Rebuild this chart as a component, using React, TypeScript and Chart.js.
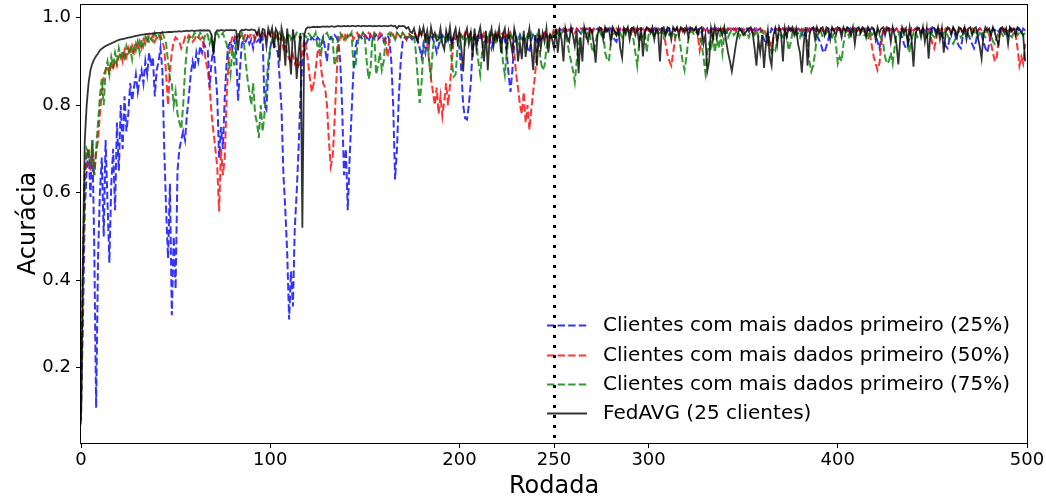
import React, { useEffect, useRef } from "react";
import { Chart, registerables } from "chart.js";

Chart.register(...registerables);
Chart.defaults.font.family = "'DejaVu Sans', sans-serif";

const xTicks = [0, 100, 200, 250, 300, 400, 500];
const yTicks = [0.2, 0.4, 0.6, 0.8, 1.0];
const markerRound = 250;
const xLabel = "Rodada";
const yLabel = "Acurácia";
const seriesLabels = [
  "Clientes com mais dados primeiro (25%)",
  "Clientes com mais dados primeiro (50%)",
  "Clientes com mais dados primeiro (75%)",
  "FedAVG (25 clientes)",
];

// accuracy per round, in thousandths (round 0 .. 499)
const blue25 = [
100,300,560,650,700,590,720,480,108,450,600,680,500,720,580,440,620,700,560,760,650,800,700,820,740,
780,850,810,840,870,830,860,880,850,900,870,920,890,910,820,880,900,930,880,700,560,450,620,320,500,
380,650,700,720,740,720,780,820,870,900,880,920,900,935,920,940,930,925,840,900,930,880,820,680,750,
700,820,900,935,945,930,950,920,810,880,940,950,945,955,940,950,930,955,945,950,940,955,800,790,880,
930,950,940,930,920,860,790,640,560,460,310,420,340,520,600,700,820,900,920,940,950,945,955,950,945,
955,950,940,955,930,900,945,955,950,960,955,945,900,800,640,700,560,680,780,880,930,950,960,955,950,
960,955,945,960,950,955,960,950,955,960,945,955,960,950,900,800,630,700,820,900,945,955,950,960,955,
950,955,960,945,930,910,940,920,950,955,960,950,940,920,935,955,960,950,945,955,960,940,955,950,945,
930,880,800,770,767,800,850,930,950,955,945,955,960,950,945,960,955,930,945,960,955,950,945,960,950,
920,870,830,880,940,955,950,960,945,955,950,930,920,950,960,955,945,960,950,955,965,960,950,960,955,
965,970,960,975,970,965,975,970,975,968,975,972,975,970,965,975,972,975,970,975,968,975,972,975,970,
975,972,968,975,970,975,960,950,945,960,975,970,975,972,975,968,975,972,975,970,975,972,975,970,975,
972,975,968,975,970,975,972,975,970,975,968,975,972,975,970,975,972,975,970,975,968,975,972,975,970,
975,972,975,965,975,970,975,960,972,975,968,975,970,975,972,975,960,975,970,975,972,975,968,975,970,
975,972,975,968,975,970,975,965,972,975,960,950,940,945,960,975,970,975,972,975,968,975,970,975,972,
975,968,975,970,975,972,960,975,970,975,968,975,972,975,960,950,940,925,920,935,950,970,975,972,975,
970,975,968,975,972,975,960,975,970,975,968,975,972,975,970,965,975,968,975,972,960,945,930,950,970,
975,972,975,968,975,970,975,972,965,955,940,930,935,960,975,970,975,972,975,968,975,970,975,972,975,
968,975,970,975,972,960,950,935,930,950,965,975,960,945,935,930,955,975,970,960,950,940,930,945,970,
975,960,945,930,920,940,965,975,970,975,968,975,972,975,970,960,975,968,975,972,975,970,965,975,970,
];

const red50 = [
120,400,620,680,700,650,710,640,690,720,780,830,870,880,890,870,900,880,905,890,910,920,900,925,910,
930,915,935,920,940,925,945,930,950,940,955,945,950,960,945,955,950,960,945,930,870,800,880,920,945,
955,950,945,930,940,955,950,960,955,945,950,960,955,950,955,930,900,880,840,780,740,700,660,557,700,
640,680,820,900,940,955,960,950,965,955,960,950,965,960,955,965,960,950,965,960,955,965,960,955,965,
960,955,965,950,960,945,955,930,940,920,905,900,915,895,905,890,900,920,950,930,900,860,830,850,880,
920,930,880,850,840,800,720,660,680,760,860,940,955,960,950,965,955,960,965,950,960,965,955,960,965,
960,955,965,960,950,965,960,955,965,960,950,945,910,955,965,960,950,965,960,955,965,960,950,965,960,
955,965,960,950,965,960,955,960,940,900,860,830,800,840,780,820,775,810,850,800,845,900,950,960,955,
965,960,950,965,955,960,965,950,960,965,955,960,950,965,960,940,955,965,960,950,965,955,960,965,950,
960,955,965,950,920,870,840,800,780,830,760,800,744,790,830,870,920,950,960,955,965,960,950,965,960,
975,970,965,975,970,975,968,975,970,975,972,965,975,970,975,972,975,968,975,970,960,975,972,975,970,
975,968,975,970,975,972,975,965,975,970,975,968,975,972,975,970,975,965,975,970,975,972,975,968,975,
970,975,972,975,968,975,970,975,965,940,915,900,890,920,950,975,970,975,968,975,972,975,970,975,968,
975,960,925,950,975,970,975,968,975,972,975,970,975,965,975,970,975,972,975,968,975,970,975,972,975,
968,975,970,975,972,975,965,975,970,975,968,975,960,940,950,930,955,975,970,975,972,975,968,975,970,
975,972,975,968,975,970,975,972,975,968,975,970,975,972,975,965,975,970,975,968,975,972,975,970,975,
968,975,972,975,970,975,968,975,972,975,965,975,970,975,968,975,972,960,935,910,895,880,895,940,970,
975,968,975,972,975,970,975,968,975,972,975,970,975,965,975,970,975,972,975,968,975,970,975,972,960,
940,930,950,975,970,975,968,975,972,975,970,975,968,975,972,975,965,975,970,975,972,975,968,975,970,
975,972,975,968,975,960,940,920,900,910,950,975,970,975,972,975,968,975,970,960,930,890,910,895,940,
];

const green75 = [
70,420,640,700,690,660,720,640,700,760,820,860,800,880,900,870,910,890,920,900,930,910,925,900,935,
920,930,905,940,925,945,920,950,935,955,940,960,950,945,965,955,960,950,965,955,940,900,860,850,800,
830,780,760,745,800,880,930,950,960,955,965,960,955,965,960,950,965,960,940,955,930,960,965,955,960,
965,950,940,900,870,930,890,950,960,955,965,950,900,860,830,800,850,780,760,725,800,740,780,850,900,
930,950,955,960,950,965,955,960,940,955,965,950,960,955,965,960,950,965,960,955,965,960,950,955,965,
930,940,920,955,960,965,955,960,950,890,910,960,965,955,960,950,960,955,965,890,885,930,960,955,965,
955,900,860,880,950,960,870,890,920,880,900,950,960,965,955,960,950,965,960,955,965,960,950,955,960,
955,960,920,860,805,850,930,955,960,900,870,930,955,960,950,945,960,955,950,965,940,900,865,870,930,
955,960,950,940,960,955,965,950,960,945,900,870,920,955,960,950,965,955,960,940,955,960,950,900,870,
920,955,960,950,965,955,940,960,950,955,945,960,950,965,955,950,960,940,900,880,890,930,955,960,950,
965,960,970,955,965,970,960,945,920,900,880,853,900,940,960,970,965,955,970,960,930,920,945,965,970,
960,970,920,905,900,940,965,970,960,970,965,955,970,960,965,970,960,950,920,890,940,965,955,970,920,
960,970,965,955,970,960,965,970,955,965,970,960,965,970,955,965,960,930,900,880,910,950,965,970,960,
965,970,955,940,910,874,920,940,925,960,920,950,930,965,920,960,970,955,965,970,960,965,970,955,965,
970,960,965,955,970,965,960,970,955,965,970,960,955,965,940,920,930,925,950,965,960,955,970,960,925,
940,965,970,960,965,955,970,960,965,940,900,877,890,920,960,965,970,955,960,965,970,960,955,965,940,
895,910,900,940,965,970,955,960,965,970,960,955,965,970,960,965,950,970,960,965,955,970,960,950,940,
910,895,900,920,895,930,960,965,955,970,960,965,950,920,950,965,970,955,960,965,970,960,955,965,970,
960,955,965,970,960,955,965,970,960,950,945,940,950,965,970,955,960,965,970,960,955,965,970,960,955,
965,970,960,955,965,970,960,945,940,955,965,970,960,955,965,970,960,955,965,970,960,965,970,960,965,
];

const fedavg = [
80,450,720,800,850,880,895,905,912,918,925,929,932,935,937,939,941,943,945,947,949,950,951,952,953,
954,955,956,957,958,959,960,961,961,962,962,963,963,964,964,965,965,965,966,966,966,967,967,967,968,
968,968,969,968,969,969,970,969,970,970,969,970,970,971,970,971,970,971,970,960,915,965,971,970,972,
971,970,972,971,972,971,972,970,925,968,972,971,973,972,971,973,972,971,960,973,950,974,972,935,975,
960,976,930,974,965,900,976,955,890,975,925,870,973,945,860,920,965,520,960,975,978,977,978,979,978,
979,978,979,980,979,980,979,980,980,979,980,981,980,980,981,980,981,980,981,981,980,981,981,980,981,
981,980,981,981,980,981,980,981,981,980,981,981,980,981,982,980,981,975,981,980,981,980,975,978,968,
965,975,955,945,975,960,978,950,970,940,978,955,965,947,950,975,940,927,970,950,978,935,960,975,945,
968,930,877,960,975,940,965,910,975,930,960,978,945,900,970,880,955,975,935,965,950,975,920,960,975,
930,968,945,920,975,955,900,940,905,970,910,950,975,930,880,960,890,975,930,965,945,975,920,960,950,
930,975,920,968,950,900,975,955,945,978,960,935,970,873,955,900,978,960,945,975,970,940,897,960,978,
975,950,978,968,975,945,978,970,960,975,930,908,975,965,978,950,975,978,960,975,940,978,911,965,978,
975,965,978,950,975,968,900,975,978,960,978,975,950,978,970,978,960,978,975,965,978,955,978,975,970,
978,960,975,978,940,960,877,900,975,950,978,955,970,975,960,978,945,920,900,877,905,935,960,975,970,
960,965,970,975,978,965,930,890,950,920,960,885,940,970,910,890,960,975,940,978,965,900,975,955,978,
970,978,960,975,940,920,874,940,978,890,960,975,978,950,978,965,975,978,960,978,975,950,978,970,960,
978,975,955,978,968,978,975,960,978,940,975,978,965,978,975,955,978,970,978,975,950,978,965,975,978,
960,978,975,945,978,960,940,893,950,978,965,975,940,978,950,888,960,978,975,955,978,945,975,906,965,
978,975,960,978,950,975,920,965,978,975,960,978,970,955,978,975,965,978,950,975,978,960,975,978,955,
935,906,960,978,970,975,960,978,965,950,938,975,978,965,975,940,978,970,975,960,978,975,965,960,900,
];

const toPoints = (arr: number[]) => arr.map((v, i) => ({ x: i, y: v / 1000 }));

export default function App() {
  const ref = useRef<HTMLCanvasElement>(null);

  useEffect(() => {
    if (!ref.current) return;
    const dash = [7.4, 3.2];

    const overlay = {
      id: "overlay",
      afterDatasetsDraw(chart: any) {
        const { ctx, chartArea, scales } = chart;
        const x = Math.round(scales.x.getPixelForValue(markerRound)) + 0.5;
        ctx.save();
        ctx.strokeStyle = "#000";
        ctx.lineWidth = 3;
        ctx.setLineDash([3, 7]);
        ctx.beginPath();
        ctx.moveTo(x, chartArea.top + 1);
        ctx.lineTo(x, chartArea.bottom);
        ctx.stroke();
        ctx.restore();
      },
      afterDraw(chart: any) {
        const { ctx, chartArea } = chart;
        ctx.save();
        ctx.strokeStyle = "#000";
        ctx.lineWidth = 1;
        ctx.setLineDash([]);
        const l = Math.round(chartArea.left) - 0.5;
        const t = Math.round(chartArea.top) + 0.5;
        const r = Math.round(chartArea.right) + 0.5;
        const b = Math.round(chartArea.bottom) + 0.5;
        ctx.strokeRect(l, t, r - l, b - t);
        const rows = [118, 88, 59, 30];
        const hx0 = chartArea.right - 480;
        const hx1 = hx0 + 40;
        const tx = hx0 + 56;
        ctx.font = "20px 'DejaVu Sans', sans-serif";
        ctx.textBaseline = "middle";
        ctx.textAlign = "left";
        chart.data.datasets.forEach((ds: any, i: number) => {
          const y = Math.round(chartArea.bottom - rows[i]) + 0.5;
          ctx.strokeStyle = ds.borderColor;
          ctx.lineWidth = ds.borderWidth;
          ctx.setLineDash(ds.borderDash || []);
          ctx.beginPath();
          ctx.moveTo(hx0, y);
          ctx.lineTo(hx1, y);
          ctx.stroke();
          ctx.fillStyle = "#000";
          ctx.fillText(ds.label, tx, y);
        });
        ctx.restore();
      },
    };

    const chart = new Chart(ref.current, {
      type: "line",
      data: {
        datasets: [
          { label: seriesLabels[0], data: toPoints(blue25), borderColor: "rgba(0,0,255,0.8)", borderWidth: 2, borderDash: dash, order: 4 },
          { label: seriesLabels[1], data: toPoints(red50), borderColor: "rgba(255,0,0,0.8)", borderWidth: 2, borderDash: dash, order: 3 },
          { label: seriesLabels[2], data: toPoints(green75), borderColor: "rgba(0,128,0,0.8)", borderWidth: 2, borderDash: dash, order: 2 },
          { label: seriesLabels[3], data: toPoints(fedavg), borderColor: "rgba(0,0,0,0.8)", borderWidth: 1.8, order: 1 },
        ] as any,
      },
      options: {
        animation: false,
        responsive: false,
        events: [],
        elements: { point: { radius: 0 }, line: { tension: 0, fill: false } },
        layout: { padding: { top: 4, right: 19, bottom: 0, left: 0 } },
        plugins: { legend: { display: false }, tooltip: { enabled: false } },
        scales: {
          x: {
            type: "linear",
            min: 0,
            max: 500,
            afterBuildTicks: (s: any) => { s.ticks = xTicks.map((v) => ({ value: v })); },
            afterFit: (s: any) => { s.height = 56; s.paddingLeft = 0; s.paddingRight = 0; },
            ticks: { autoSkip: false, maxRotation: 0, color: "#000", font: { size: 18 }, padding: 2, callback: (v: any) => String(v) },
            grid: { drawOnChartArea: false, color: "#000", tickLength: 5 },
            border: { display: false },
            title: { display: true, text: xLabel, color: "#000", font: { size: 24, lineHeight: 1 }, padding: { top: 0, bottom: 0 } },
          },
          y: {
            type: "linear",
            min: 0.028,
            max: 1.031,
            afterBuildTicks: (s: any) => { s.ticks = yTicks.map((v) => ({ value: v })); },
            afterFit: (s: any) => { s.width = 81; s.paddingTop = 0; s.paddingBottom = 0; },
            ticks: { color: "#000", font: { size: 18 }, padding: 5, callback: (v: any) => Number(v).toFixed(1) },
            grid: { drawOnChartArea: false, color: "#000", tickLength: 5 },
            border: { display: false },
            title: { display: true, text: yLabel, color: "#000", font: { size: 24, lineHeight: 1 }, padding: { top: 17, bottom: 0 } },
          },
        },
      } as any,
      plugins: [overlay],
    });
    return () => chart.destroy();
  }, []);

  return (
    <div style={{ position: "fixed", left: 0, top: 0, width: 1046, height: 499, background: "#fff" }}>
      <canvas ref={ref} width={1046} height={499} style={{ display: "block" }} />
    </div>
  );
}
